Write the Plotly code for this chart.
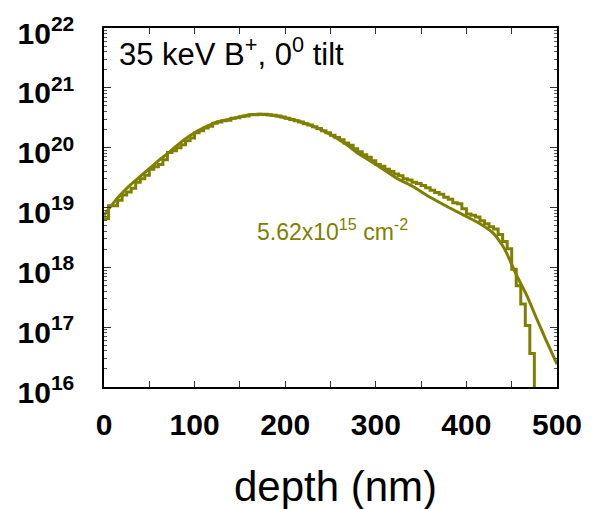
import plotly.graph_objects as go

# ---- data -------------------------------------------------------------
# smooth (simulated) profile: depth (nm) and concentration (cm^-3)
smooth_depth = [0, 10, 20, 30, 40, 50, 60, 70, 80, 90, 100, 110, 125, 136, 154,
                172, 191, 209, 227, 246, 268, 279, 297, 305, 323, 341, 360, 378,
                396, 415, 429, 440, 444, 455, 466, 477, 488, 500]
smooth_conc = [7.41e18, 1.17e19, 1.74e19, 2.45e19, 3.31e19, 4.47e19, 6.03e19,
               7.94e19, 1.07e20, 1.41e20, 1.78e20, 2.14e20, 2.69e20, 2.92e20,
               3.39e20, 3.63e20, 3.39e20, 2.92e20, 2.40e20, 1.78e20, 1.12e20,
               8.32e19, 5.62e19, 4.68e19, 3.09e19, 2.24e19, 1.48e19, 1.05e19,
               7.59e18, 5.37e18, 3.80e18, 2.29e18, 1.78e18, 7.59e17, 3.55e17,
               1.45e17, 6.03e16, 2.40e16]

# histogram (Monte-Carlo) profile: 5 nm bins starting at 0 nm
hist_bin_left = list(range(0, 475, 5))
hist_conc = [
    6.46e18, 1.07e19, 1.07e19, 1.32e19, 1.62e19, 1.82e19, 2.09e19, 2.63e19, 3.02e19, 3.47e19,
    4.37e19, 4.79e19, 5.25e19, 6.31e19, 8.32e19, 8.91e19, 1.00e20, 1.12e20, 1.30e20, 1.45e20,
    1.78e20, 1.91e20, 2.14e20, 2.29e20, 2.57e20, 2.69e20, 2.82e20, 2.88e20, 3.09e20, 3.16e20,
    3.31e20, 3.39e20, 3.55e20, 3.55e20, 3.63e20, 3.63e20, 3.55e20, 3.47e20, 3.39e20, 3.24e20,
    3.09e20, 2.95e20, 2.82e20, 2.69e20, 2.51e20, 2.40e20, 2.24e20, 2.09e20, 1.91e20, 1.78e20,
    1.62e20, 1.48e20, 1.35e20, 1.20e20, 1.10e20, 9.55e19, 8.51e19, 7.59e19, 6.92e19, 6.03e19,
    5.25e19, 4.90e19, 4.37e19, 3.98e19, 3.63e19, 3.39e19, 3.02e19, 2.88e19, 2.63e19, 2.51e19,
    2.34e19, 2.14e19, 1.95e19, 1.78e19, 1.66e19, 1.48e19, 1.38e19, 1.20e19, 1.15e19, 9.55e18,
    7.76e18, 7.41e18, 6.92e18, 6.03e18, 5.37e18, 4.79e18, 4.37e18, 3.55e18, 2.69e18, 2.04e18,
    9.33e17, 4.90e17, 2.45e17, 1.07e17, 3.63e16,
]
hist_end_depth = 475
hist_floor = 1e15

x_tickvals = [0, 50, 100, 150, 200, 250, 300, 350, 400, 450, 500]
x_ticktext = ["0", "", "100", "", "200", "", "300", "", "400", "", "500"]
y_exponents = [16, 17, 18, 19, 20, 21, 22]

label_text = "35 keV B<sup>+</sup>, 0<sup>0</sup> tilt"
dose_text = "5.62x10<sup>15</sup> cm<sup>-2</sup>"
x_title = "depth (nm)"

# ---- figure -----------------------------------------------------------
OLIVE = "#808000"
FONT = "Liberation Sans, Arial, sans-serif"

fig = go.Figure()
fig.add_trace(go.Scatter(
    x=hist_bin_left + [hist_end_depth],
    y=hist_conc + [hist_floor],
    mode="lines", line=dict(color=OLIVE, width=3, shape="hv"),
))
fig.add_trace(go.Scatter(
    x=smooth_depth, y=smooth_conc,
    mode="lines", line=dict(color=OLIVE, width=3, shape="spline", smoothing=0.6),
))

y_tickvals = [10.0 ** e for e in y_exponents]
y_ticktext = ["10<sup>%d</sup>" % e for e in y_exponents]
y_minor = [k * 10.0 ** e for e in y_exponents[:-1] for k in range(2, 10)]

fig.update_layout(
    width=594, height=509,
    margin=dict(l=104, r=37, t=24, b=122, pad=0),
    plot_bgcolor="white", paper_bgcolor="white",
    showlegend=False,
    font=dict(family=FONT, color="black"),
    xaxis=dict(
        range=[0, 500], tickmode="array", tickvals=x_tickvals, ticktext=x_ticktext,
        ticks="inside", ticklen=6, tickwidth=1.2, tickcolor="#333",
        showline=True, linecolor="black", linewidth=1.5, mirror="ticks",
        showgrid=False, zeroline=False,
        tickfont=dict(family=FONT, size=30, weight="bold", color="black"),
        ticklabelstandoff=10,
    ),
    yaxis=dict(
        type="log", range=[16, 22], tickmode="array",
        tickvals=y_tickvals, ticktext=y_ticktext,
        ticks="inside", ticklen=7, tickwidth=1.2, tickcolor="#333",
        showline=True, linecolor="black", linewidth=1.5, mirror="ticks",
        showgrid=False, zeroline=False,
        tickfont=dict(family=FONT, size=30, weight="bold", color="black"),
        ticklabelstandoff=22,
        ticklabelshift=5,
        minor=dict(ticks="inside", ticklen=3.5, tickwidth=1, tickcolor="#555",
                   tickmode="array", tickvals=y_minor, showgrid=False),
    ),
)

fig.add_annotation(
    text=label_text, xref="paper", yref="paper", x=0.028, y=0.995,
    xanchor="left", yanchor="top", showarrow=False,
    font=dict(family=FONT, size=31, color="black"),
)
fig.add_annotation(
    text=dose_text, xref="paper", yref="paper", x=0.504, y=0.438,
    xanchor="center", yanchor="middle", showarrow=False,
    font=dict(family=FONT, size=23, color=OLIVE),
)
fig.add_annotation(
    text=x_title, xref="paper", yref="paper", x=0.5116, y=-0.278,
    xanchor="center", yanchor="middle", showarrow=False,
    font=dict(family=FONT, size=42, color="black"),
)

fig.write_html("out.html")
